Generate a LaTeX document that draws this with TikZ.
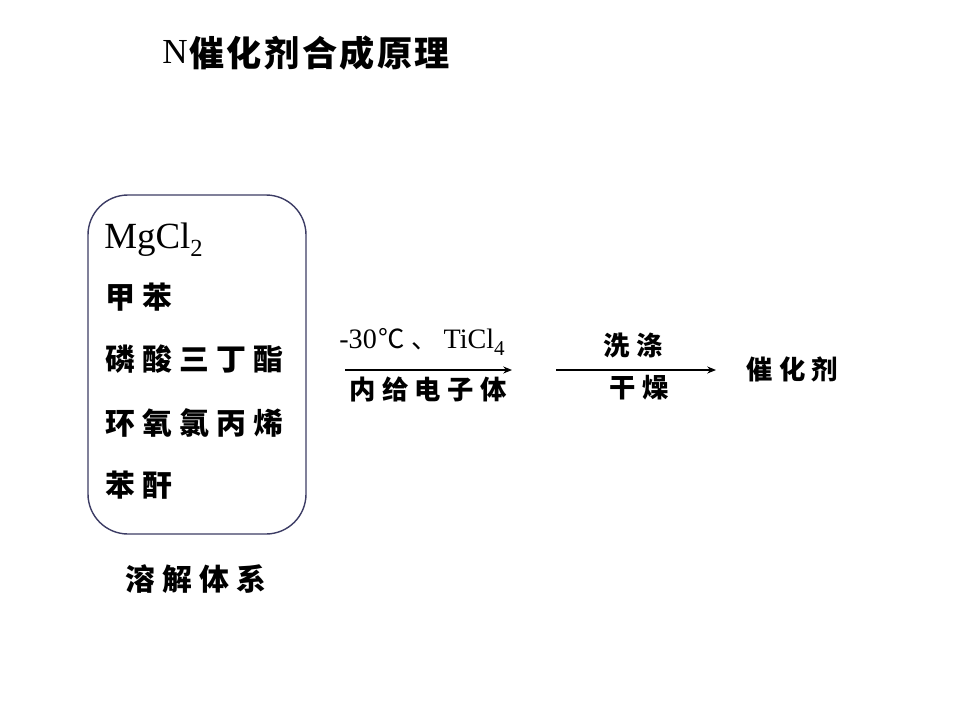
\documentclass[tikz,border=0pt]{standalone}
\usepackage{fontspec}
\setmainfont{Liberation Serif}
\newfontfamily\cjkT[LetterSpace=7]{Noto Sans CJK SC}
\newfontfamily\cjkL[LetterSpace=24]{Noto Sans CJK SC}
\newfontfamily\cjkS[LetterSpace=24]{Noto Sans CJK SC}
\newfontfamily\cjkR{Noto Sans CJK SC}
\usetikzlibrary{arrows.meta}
\definecolor{boxline}{RGB}{60,60,100}
\tikzset{
  px/.style={x=0.02cm,y=-0.02cm},
  title/.style={anchor=west,inner sep=0pt,font=\cjkT\bfseries\fontsize{20}{20}\selectfont},
  item/.style={anchor=west,inner sep=0pt,font=\cjkL\bfseries\fontsize{17}{17}\selectfont},
  small/.style={anchor=west,inner sep=0pt,font=\cjkS\bfseries\fontsize{15}{15}\selectfont},
  flow/.style={line width=0.6pt,-{Stealth[length=5pt,width=4pt]}},
  groupbox/.style={draw=boxline,line width=0.8pt,rounded corners=0.8cm},
}
\begin{document}
\begin{tikzpicture}[px]
\useasboundingbox (0,0) rectangle (960,720);
% title
\node[anchor=west,inner sep=0pt,font=\fontsize{20}{20}\selectfont] (tN) at (162,52) {N};
\node[title] (title) at (189,53) {催化剂合成原理};
% group box
\draw[groupbox] (88,195) rectangle (306,534);
\node[anchor=base west,inner sep=0pt,font=\fontsize{21}{21}\selectfont] (mg) at (104,248) {MgCl\raisebox{-5pt}{\fontsize{14}{14}\selectfont 2}};
\node[item] (i1) at (105,297) {甲苯};
\node[item] (i2) at (105,359) {磷酸三丁酯};
\node[item] (i3) at (105,423) {环氧氯丙烯};
\node[item] (i4) at (105,485) {苯酐};
\node[item] (sys) at (125,579) {溶解体系};
% step 1
\node[anchor=base west,inner sep=0pt,font=\fontsize{16}{16}\selectfont] (cond) at (339,348)
  {-30{\cjkR\fontsize{15}{15}\selectfont \hspace{1pt}℃\hspace{4pt}、}\hspace{3pt}TiCl\raisebox{-4pt}{\fontsize{12}{12}\selectfont 4}};
\coordinate (a1s) at (345,370);
\coordinate (a1e) at (512,370);
\draw[flow] (a1s) -- (a1e);
\node[small] (donor) at (349,389) {内给电子体};
% step 2
\node[small] (wash) at (603,345) {洗涤};
\coordinate (a2s) at (556,370);
\coordinate (a2e) at (716,370);
\draw[flow] (a2s) -- (a2e);
\node[small] (dry) at (609,388) {干燥};
\node[small] (cat) at (746,369) {催化剂};
\end{tikzpicture}
\end{document}
